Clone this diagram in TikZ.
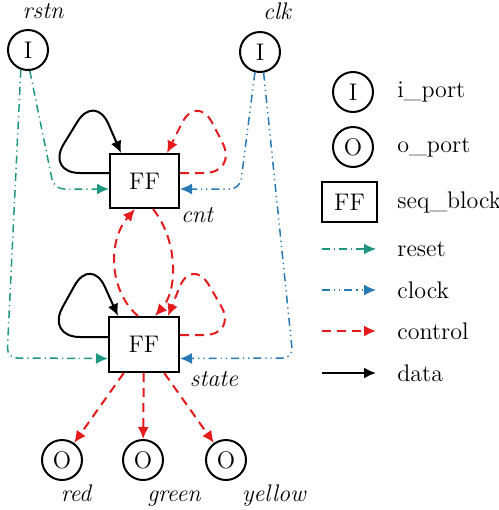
\documentclass[tikz,border=0pt]{standalone}
\usetikzlibrary{arrows.meta}
\definecolor{rstcol}{RGB}{30,150,130}
\definecolor{clkcol}{RGB}{40,120,180}
\definecolor{ctlcol}{RGB}{228,26,28}
\tikzset{
  base/.style={font=\fontsize{12}{14}\selectfont},
  port/.style={base,circle,draw,line width=1pt,minimum size=20pt,inner sep=0pt},
  ffbox/.style={base,rectangle,draw,line width=1pt,minimum width=34.5pt,minimum height=27pt,inner sep=0pt},
  lab/.style={base,inner sep=0pt},
  itlab/.style={base,inner sep=0pt,anchor=base,font=\fontsize{12}{14}\selectfont\itshape},
  tip/.style={-{Latex[length=6pt,width=5.5pt]}},
  resetline/.style={tip,rstcol,line width=0.75pt,dash pattern=on 4pt off 2pt on 0.6pt off 2pt,rounded corners=5pt},
  clockline/.style={tip,clkcol,line width=0.75pt,dash pattern=on 4pt off 2pt on 0.6pt off 2pt on 0.6pt off 2pt,rounded corners=5pt},
  controlline/.style={tip,ctlcol,line width=1pt,dash pattern=on 4.5pt off 3pt},
  dataline/.style={tip,black,line width=1pt},
  loopround/.style={rounded corners=17pt},
}
\begin{document}
\begin{tikzpicture}[x=0.5pt,y=-0.5pt]
\useasboundingbox (0,0) rectangle (499,510);
% ports and blocks
\node[port] (rstn) at (28,50) {I};
\node[port] (clk) at (260,52) {I};
\node[itlab] (rstnl) at (43,18) {rstn};
\node[itlab] (clkl) at (277,19) {clk};
\node[ffbox] (cnt) at (144.5,181) {FF};
\node[ffbox,minimum width=35pt,minimum height=27.5pt] (state) at (144,344.5) {FF};
\node[itlab] (cntl) at (197,222) {cnt};
\node[itlab] (statel) at (214,386) {state};
\node[port] (red) at (62,460) {O};
\node[port] (green) at (143,460) {O};
\node[port] (yellow) at (226,460) {O};
\node[itlab] (redl) at (76,501) {red};
\node[itlab] (greenl) at (174,501) {green};
\node[itlab] (yellowl) at (274,501) {yellow};
% reset
\draw[resetline] (rstn.275) -- (54,189) -- ([yshift=-4pt]cnt.west);
\draw[resetline] (rstn.250) -- (7,358) -- ([yshift=-7pt]state.west);
% clock
\draw[clockline] (clk.256) -- (240,189) -- ([yshift=-4pt]cnt.east);
\draw[clockline] (clk.280) -- (293,358) -- ([yshift=-7pt]state.east);
% data loops
\draw[dataline,loopround] ([yshift=4pt]cnt.west) -- (46,173) -- (95,93) -- ([xshift=-11.75pt]cnt.north);
\draw[dataline,loopround] ([yshift=3.75pt]state.west) -- (46,337) -- (91,256) -- ([xshift=-13pt]state.north);
% control loops
\draw[controlline,loopround] ([yshift=4pt]cnt.east) -- (238,173) -- (197,93) -- ([xshift=11.25pt]cnt.north);
\draw[controlline,loopround] ([yshift=4.75pt]state.east) -- (238,335) -- (192,256) -- ([xshift=12pt]state.north);
% control between blocks
\draw[controlline] ([xshift=4.25pt]cnt.south) .. controls (178,240) and (178,290) .. ([xshift=5.5pt]state.north);
\draw[controlline] ([xshift=-3pt]state.north) .. controls (108,290) and (108,240) .. ([xshift=-4.75pt]cnt.south);
% outputs
\draw[controlline] (state) -- (red);
\draw[controlline] (state) -- (green);
\draw[controlline] (state) -- (yellow);
% legend
\node[port] (li) at (353,92) {I};
\node[lab,anchor=west] (lit) at (397,92) {i\_port};
\node[port] (lo) at (353,147) {O};
\node[lab,anchor=west] (lot) at (397,147) {o\_port};
\node[ffbox,minimum width=27.5pt,minimum height=20pt] (lff) at (349.5,202) {FF};
\node[lab,anchor=west] (lfft) at (397,202) {seq\_block};
\coordinate (ra) at (322,249); \coordinate (rb) at (376,249);
\draw[resetline] (ra) -- (rb);
\node[lab,anchor=west] (rt) at (397,249) {reset};
\coordinate (ca) at (322,290); \coordinate (cb) at (376,290);
\draw[clockline] (ca) -- (cb);
\node[lab,anchor=west] (ct) at (397,290) {clock};
\coordinate (ka) at (322,331); \coordinate (kb) at (376,331);
\draw[controlline] (ka) -- (kb);
\node[lab,anchor=west] (kt) at (397,331) {control};
\coordinate (da) at (322,373); \coordinate (db) at (376,373);
\draw[dataline] (da) -- (db);
\node[lab,anchor=west] (dt) at (397,373) {data};
\end{tikzpicture}
\end{document}
